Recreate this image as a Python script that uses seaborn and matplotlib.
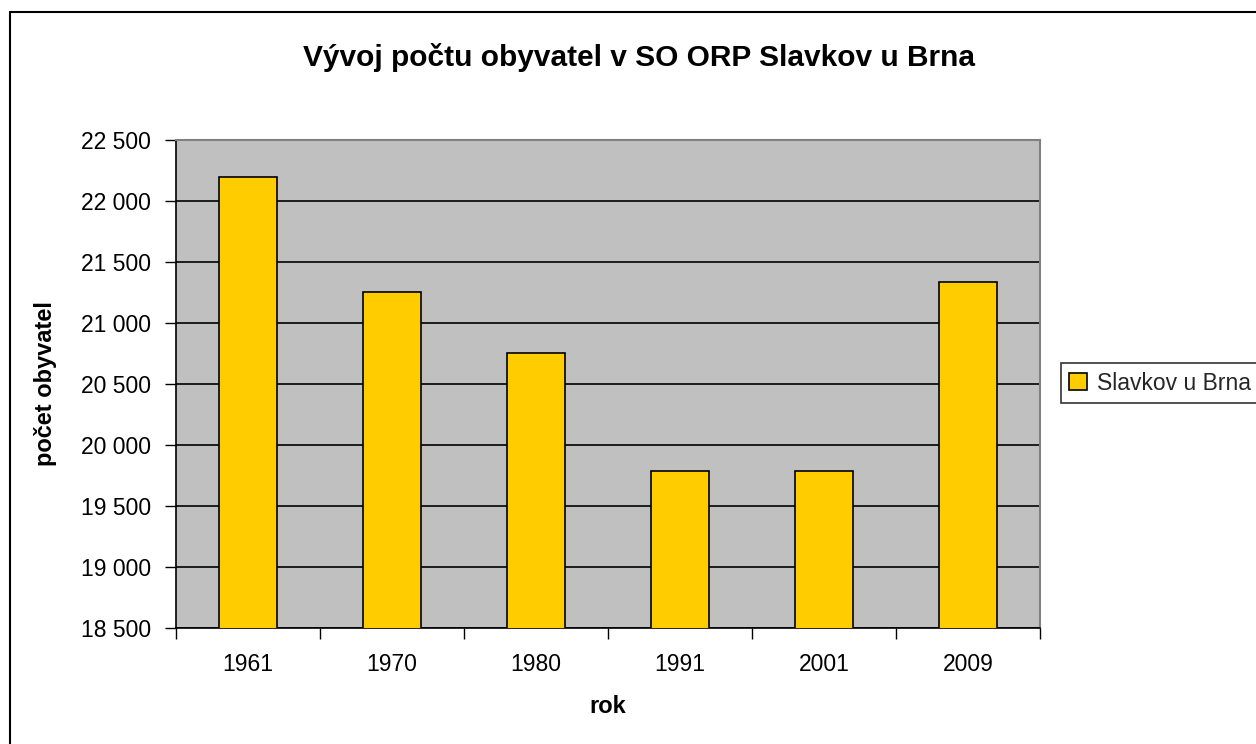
import numpy as np
import pandas as pd
import matplotlib
matplotlib.use("Agg")
import matplotlib.pyplot as plt
import seaborn as sns
from matplotlib.ticker import FixedLocator, FuncFormatter

# --- data ---
years = ["1961", "1970", "1980", "1991", "2001", "2009"]
population = [22193, 21251, 20752, 19787, 19787, 21337]
series_name = "Slavkov u Brna"

title = "Vývoj počtu obyvatel v SO ORP Slavkov u Brna"
x_label = "rok"
y_label = "počet obyvatel"
y_ticks = [18500, 19000, 19500, 20000, 20500, 21000, 21500, 22000, 22500]

df = pd.DataFrame({"rok": years, "obyvatel": population, "serie": series_name})

sns.set_theme(style="white")
plt.rcParams["font.family"] = ["Liberation Sans", "DejaVu Sans"]

W, H = 1256, 744
fig = plt.figure(figsize=(W / 100, H / 100), dpi=100)
ax = fig.add_axes([176 / W, 1 - 628 / H, (1040 - 176) / W, (628 - 140) / H])
ax.set_facecolor("#c0c0c0")

sns.barplot(data=df, x="rok", y="obyvatel", hue="serie", ax=ax,
            palette=["#ffcc00"], width=0.4, edgecolor="black", linewidth=1.2,
            saturation=1, legend=True, zorder=3)

ax.set_ylim(y_ticks[0], y_ticks[-1])
ax.set_xlim(-0.5, len(years) - 0.5)
ax.yaxis.set_major_locator(FixedLocator(y_ticks))
ax.yaxis.set_major_formatter(FuncFormatter(lambda v, p: f"{int(v):,}".replace(",", " ")))
ax.grid(axis="y", color="black", linewidth=1.2, zorder=0)
ax.set_axisbelow(True)

# x ticks between categories
ax.set_xticks(np.arange(len(years)))
ax.set_xticklabels(years)
ax.set_xticks(np.arange(-0.5, len(years)), minor=True)
ax.tick_params(axis="x", which="major", length=0, pad=18, labelsize=16.5, colors="black")
ax.tick_params(axis="x", which="minor", length=8, width=1, color="black", direction="out", bottom=True)
ax.tick_params(axis="y", length=8, width=1, color="black", direction="out", left=True,
               labelsize=16.5, colors="black", pad=10)

for side in ["top", "right"]:
    ax.spines[side].set_color("#808080")
    ax.spines[side].set_linewidth(1.5)
for side in ["left", "bottom"]:
    ax.spines[side].set_color("black")
    ax.spines[side].set_linewidth(1.2)

ax.set_xlabel(x_label, fontsize=17, fontweight="bold", labelpad=14, color="black")
ax.set_ylabel(y_label, fontsize=17, fontweight="bold", labelpad=17, color="black")

fig.text(639 / W, 1 - 57 / H, title, ha="center", va="center",
         fontsize=21.5, fontweight="bold", color="black")

leg = ax.legend(loc="center left", bbox_to_anchor=(1061 / W, 1 - 383 / H),
                bbox_transform=fig.transFigure, frameon=True, fontsize=16.5,
                handlelength=0.8, handleheight=0.8, handletextpad=0.4,
                borderpad=0.35, fancybox=False, borderaxespad=0)
leg.get_frame().set_edgecolor("black")
leg.get_frame().set_linewidth(1.2)

# outer chart frame (left and top edges visible)
fig.add_artist(plt.Line2D([10 / W, 10 / W], [0, 1 - 12 / H], transform=fig.transFigure,
                          color="black", linewidth=1.5))
fig.add_artist(plt.Line2D([10 / W, 1], [1 - 12 / H, 1 - 12 / H], transform=fig.transFigure,
                          color="black", linewidth=1.5))

fig.savefig("out.png", dpi=100)
